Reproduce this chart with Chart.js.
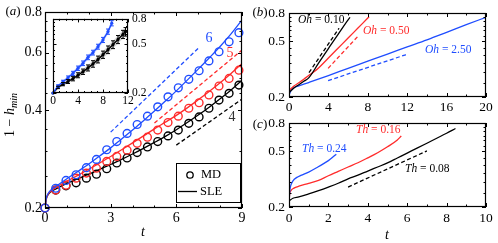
<!DOCTYPE html>
<html>
<head>
<meta charset="utf-8">
<script src="https://cdn.jsdelivr.net/npm/chart.js@4.4.1/dist/chart.umd.min.js"></script>
<style>
  body { margin: 0; background: #fff; }
  #wrap { position: relative; width: 498px; height: 243px; overflow: hidden; background: #fff; }
  canvas { position: absolute; }
</style>
</head>
<body>
<div id="wrap">
  <canvas id="cA" width="250" height="243" style="left:0px;top:0px"></canvas>
  <canvas id="cIn" width="112" height="102" style="left:43px;top:8px"></canvas>
  <canvas id="cB" width="248" height="118" style="left:250px;top:0px"></canvas>
  <canvas id="cC" width="248" height="135" style="left:250px;top:108px"></canvas>
</div>
<script>
const FONT = "'Liberation Serif', 'DejaVu Serif', serif";
const BLUE = '#1f4dff', RED = '#ff2b2b', BLACK = '#000000';

// ---- panel (a): MD samples (circles) and SLE curves (solid) ----
const mdT = [0, 0.49, 0.96, 1.42, 1.89, 2.35, 2.82, 3.28, 3.75, 4.21, 4.68, 5.15, 5.62, 6.09, 6.57, 7.04, 7.49, 7.95, 8.41, 8.86];
const mdBlue  = [0.2, 0.230, 0.243, 0.253, 0.266, 0.282, 0.302, 0.320, 0.339, 0.361, 0.383, 0.409, 0.439, 0.468, 0.497, 0.528, 0.566, 0.604, 0.648, 0.691];
const mdRed   = [0.2, 0.227, 0.235, 0.247, 0.256, 0.265, 0.278, 0.288, 0.301, 0.316, 0.330, 0.347, 0.366, 0.383, 0.405, 0.421, 0.445, 0.474, 0.500, 0.530];
const mdBlack = [0.2, 0.227, 0.234, 0.239, 0.247, 0.254, 0.264, 0.275, 0.285, 0.296, 0.308, 0.320, 0.333, 0.347, 0.364, 0.381, 0.405, 0.429, 0.450, 0.477];

const sleT = [0, 0.05, 0.15, 0.3, 0.5, 1, 1.5, 2, 2.5, 3, 3.5, 4, 4.5, 5, 5.5, 6, 6.5, 7, 7.5, 8, 8.5, 9];
const sleBlue  = [0.2, 0.213, 0.222, 0.228, 0.233, 0.246, 0.259, 0.273, 0.289, 0.306, 0.326, 0.347, 0.371, 0.397, 0.426, 0.458, 0.494, 0.534, 0.578, 0.627, 0.685, 0.756];
const sleRed   = [0.2, 0.212, 0.221, 0.226, 0.231, 0.242, 0.252, 0.263, 0.275, 0.288, 0.302, 0.317, 0.333, 0.350, 0.367, 0.385, 0.406, 0.430, 0.456, 0.485, 0.518, 0.556];
const sleBlack = [0.2, 0.212, 0.220, 0.225, 0.229, 0.238, 0.246, 0.254, 0.263, 0.272, 0.282, 0.293, 0.305, 0.318, 0.332, 0.348, 0.366, 0.386, 0.408, 0.433, 0.461, 0.494];

// reference slopes (dashed)
const refBlueT = [3, 7],  refBlue  = [0.342, 0.619];
const refRedT  = [5, 9],  refRed   = [0.365, 0.611];
const refBlackT = [6, 9], refBlack = [0.312, 0.432];

const aXTicks = [0, 3, 6, 9], aXMinor = [1, 2, 4, 5, 7, 8];
const aYTicks = [0.2, 0.4, 0.6, 0.8], aYMinor = [0.25, 0.3, 0.35, 0.45, 0.5, 0.55, 0.65, 0.7, 0.75];

// ---- inset ----
const inBlueT = [0, 0.8, 1.6, 2.4, 3.2, 4.0, 4.8, 5.6, 6.4, 7.2, 8.0, 8.8, 9.4];
const inBlue  = [0.2, 0.228, 0.247, 0.266, 0.289, 0.318, 0.349, 0.390, 0.426, 0.476, 0.540, 0.631, 0.738];
const inBlueErr = [0, 0.005, 0.007, 0.009, 0.011, 0.013, 0.015, 0.017, 0.019, 0.022, 0.026, 0.031, 0.036];
const inBlackT = [0, 0.8, 1.6, 2.4, 3.2, 4.0, 4.8, 5.6, 6.4, 7.2, 8.0, 8.8, 9.6, 10.4, 11.2, 11.6];
const inBlack  = [0.2, 0.222, 0.236, 0.248, 0.262, 0.279, 0.298, 0.320, 0.345, 0.375, 0.410, 0.450, 0.495, 0.545, 0.600, 0.630];
const inBlackErr = [0, 0.005, 0.007, 0.009, 0.011, 0.013, 0.015, 0.018, 0.021, 0.024, 0.028, 0.032, 0.036, 0.041, 0.046, 0.05];
const inXTicks = [0, 4, 8, 12], inXMinor = [1, 2, 3, 5, 6, 7, 9, 10, 11];

const logTicks = [0.2, 0.5, 0.8];
const logMinor = [0.25, 0.3, 0.35, 0.4, 0.45, 0.55, 0.6, 0.65, 0.7, 0.75];

// ---- panel (b): Oh variation ----
const bBlackT = [0, 0.5, 1, 1.5, 2, 3, 4, 5, 6, 6.2];
const bBlack  = [0.215, 0.232, 0.245, 0.259, 0.274, 0.350, 0.445, 0.565, 0.715, 0.745];
const bRedT = [0, 0.5, 1, 1.5, 2, 2.5, 3, 4, 5, 6, 7, 8, 8.13];
const bRed  = [0.222, 0.240, 0.253, 0.268, 0.285, 0.302, 0.323, 0.381, 0.449, 0.529, 0.624, 0.736, 0.752];
const bBlueT = [0, 0.2, 0.5, 1, 2, 4, 6, 8, 10, 12, 14, 16, 18, 20];
const bBlue  = [0.207, 0.222, 0.233, 0.240, 0.254, 0.285, 0.321, 0.361, 0.406, 0.457, 0.514, 0.582, 0.660, 0.745];
const bRefBlackT = [2.03, 5.08], bRefBlack = [0.299, 0.622];
const bRefRedT = [3.97, 7.02],   bRefRed = [0.321, 0.547];
const bRefBlueT = [3.97, 12.0],  bRefBlue = [0.262, 0.405];
const bXTicks = [0, 4, 8, 12, 16, 20], bXMinor = [2, 6, 10, 14, 18];

// ---- panel (c): Th variation ----
const cBlueT = [0, 0.02, 0.05, 0.1, 0.2, 0.4, 0.6, 1, 1.4, 2, 2.2, 2.4];
const cBlue  = [0.205, 0.24, 0.268, 0.288, 0.308, 0.326, 0.337, 0.356, 0.382, 0.43, 0.452, 0.478];
const cRedT = [0, 0.03, 0.1, 0.25, 0.5, 1, 1.5, 2, 2.5, 3, 3.5, 4, 4.5, 5, 5.5, 5.7];
const cRed  = [0.21, 0.245, 0.262, 0.273, 0.282, 0.295, 0.31, 0.335, 0.36, 0.387, 0.415, 0.45, 0.49, 0.54, 0.605, 0.645];
const cBlackT = [0, 0.2, 0.5, 1, 1.5, 2, 2.5, 3, 3.5, 4, 4.5, 5, 5.5, 6, 6.5, 7, 7.5, 8, 8.45];
const cBlack  = [0.221, 0.231, 0.236, 0.248, 0.262, 0.278, 0.296, 0.318, 0.338, 0.362, 0.387, 0.414, 0.449, 0.487, 0.528, 0.573, 0.622, 0.675, 0.73];
const cRefBlackT = [3, 7], cRefBlack = [0.278, 0.505];
const cXTicks = [0, 2, 4, 6, 8, 10], cXMinor = [1, 3, 5, 7, 9];

const pts = (xs, ys) => xs.map((x, i) => ({ x, y: ys[i] }));

const line = (xs, ys, color, dash, w) => ({
  data: pts(xs, ys), borderColor: color, borderWidth: w || 1.3, borderDash: dash || [],
  pointRadius: 0, fill: false, cubicInterpolationMode: 'monotone'
});
const circles = (xs, ys, color) => ({
  data: pts(xs, ys), showLine: false, borderColor: color, pointBorderColor: color,
  pointBackgroundColor: 'rgba(0,0,0,0)', backgroundColor: 'rgba(0,0,0,0)',
  pointRadius: 3.9, pointBorderWidth: 1.4, clip: false
});

function mathText(ctx, x, y, parts, size, align, color) {
  const fontOf = st => (st === 'n' ? '' : 'italic ') + (st === 's' ? Math.round(size * 0.72) : size) + 'px ' + FONT;
  let w = 0;
  parts.forEach(([t, st]) => { ctx.font = fontOf(st); w += ctx.measureText(t).width; });
  let cx = align === 'center' ? x - w / 2 : align === 'right' ? x - w : x;
  ctx.fillStyle = color || '#000';
  ctx.textBaseline = 'middle';
  ctx.textAlign = 'left';
  parts.forEach(([t, st]) => {
    ctx.font = fontOf(st);
    ctx.fillText(t, cx, y + (st === 's' ? size * 0.3 : 0));
    cx += ctx.measureText(t).width;
  });
}

// frame, inward ticks on all sides, and free text (page coordinates)
function decor(o) {
  return {
    id: 'decor',
    afterDatasetsDraw(chart) {
      const { ctx, chartArea: a } = chart;
      const sx = chart.scales.x, sy = chart.scales.y;
      ctx.save();
      ctx.strokeStyle = '#000';
      ctx.lineWidth = 1;
      ctx.beginPath();
      const xm = (vals, len) => vals.forEach(v => {
        const p = Math.round(sx.getPixelForValue(v)) + 0.5;
        ctx.moveTo(p, a.bottom); ctx.lineTo(p, a.bottom - len);
        ctx.moveTo(p, a.top); ctx.lineTo(p, a.top + len);
      });
      const ym = (vals, len) => vals.forEach(v => {
        const p = Math.round(sy.getPixelForValue(v)) + 0.5;
        ctx.moveTo(a.left, p); ctx.lineTo(a.left + len, p);
        ctx.moveTo(a.right, p); ctx.lineTo(a.right - len, p);
      });
      xm(o.xMaj, o.big); xm(o.xMin, o.small);
      ym(o.yMaj, o.big); ym(o.yMin, o.small);
      ctx.stroke();
      ctx.lineWidth = 1.2;
      ctx.strokeRect(Math.round(a.left) + 0.5, Math.round(a.top) + 0.5, Math.round(a.width) - 1, Math.round(a.height) - 1);
      if (o.extra) o.extra(chart, ctx);
      (o.texts || []).forEach(t => {
        ctx.save();
        ctx.translate(t.x - o.ox, t.y - o.oy);
        if (t.rot) ctx.rotate(t.rot);
        mathText(ctx, 0, 0, t.parts, t.size || 13, t.align || 'left', t.color);
        ctx.restore();
      });
      ctx.restore();
    }
  };
}

function axisX(min, max, ticks, size, h, pad) {
  return {
    type: 'linear', min, max,
    afterBuildTicks: s => { s.ticks = ticks.map(v => ({ value: v })); },
    afterFit: s => { s.height = h; },
    grid: { display: false, drawTicks: false }, border: { display: false },
    ticks: { color: '#000', font: { family: FONT, size }, padding: pad, maxRotation: 0, autoSkip: false, callback: v => String(v) }
  };
}
function axisY(ticks, size, w, pad, position) {
  return {
    type: 'logarithmic', min: 0.2, max: 0.8, position: position || 'left',
    afterBuildTicks: s => { s.ticks = ticks.map(v => ({ value: v })); },
    afterFit: s => { s.width = w; },
    grid: { display: false, drawTicks: false }, border: { display: false },
    ticks: { color: '#000', font: { family: FONT, size }, padding: pad, autoSkip: false, callback: v => Number(v).toFixed(1) }
  };
}
const base = (padding) => ({
  responsive: false, animation: false, devicePixelRatio: 1, events: [],
  layout: { padding },
  plugins: { legend: { display: false }, tooltip: { enabled: false } }
});

// ---------- panel (a) ----------
new Chart(document.getElementById('cA'), {
  type: 'line',
  data: {
    datasets: [
      circles(mdT, mdBlue, BLUE),
      line(sleT, sleBlue, BLUE),
      line(refBlueT, refBlue, BLUE, [4, 2.5]),
      circles(mdT, mdRed, RED),
      line(sleT, sleRed, RED),
      line(refRedT, refRed, RED, [4, 2.5]),
      circles(mdT, mdBlack, BLACK),
      line(sleT, sleBlack, BLACK),
      line(refBlackT, refBlack, BLACK, [4, 2.5])
    ]
  },
  options: Object.assign(base({ left: 0, right: 8, top: 12, bottom: 0 }), {
    scales: { x: axisX(0, 9, aXTicks, 14, 35, 2), y: axisY(aYTicks, 14, 45, 3) }
  }),
  plugins: [decor({
    ox: 0, oy: 0, big: 4, small: 2.5,
    xMaj: aXTicks, xMin: aXMinor, yMaj: aYTicks, yMin: aYMinor,
    texts: [
      { x: 13, y: 12, parts: [['(', 'n'], ['a', 'i'], [')', 'n']], size: 13, align: 'center' },
      { x: 10, y: 115, rot: -Math.PI / 2, parts: [['1 \u2212 ', 'n'], ['h', 'i'], ['min', 's']], size: 14, align: 'center' },
      { x: 143, y: 232, parts: [['t', 'i']], size: 14, align: 'center' },
      { x: 209, y: 38, parts: [['6', 'n']], size: 14, align: 'center', color: BLUE },
      { x: 230, y: 53, parts: [['5', 'n']], size: 14, align: 'center', color: RED },
      { x: 232, y: 117, parts: [['4', 'n']], size: 14, align: 'center', color: '#333' }
    ],
    extra: (chart, ctx) => {
      // legend box
      ctx.fillStyle = '#fff';
      ctx.fillRect(176.5, 163.5, 64, 39);
      ctx.strokeStyle = '#000'; ctx.lineWidth = 1;
      ctx.strokeRect(176.5, 163.5, 64, 39);
      ctx.lineWidth = 1.3;
      ctx.beginPath(); ctx.arc(190, 175, 3.2, 0, Math.PI * 2); ctx.stroke();
      ctx.beginPath(); ctx.moveTo(178, 191.5); ctx.lineTo(197, 191.5); ctx.stroke();
      mathText(ctx, 201, 175, [['MD', 'n']], 12.5, 'left');
      mathText(ctx, 200, 191.5, [['SLE', 'n']], 12.5, 'left');
    }
  })]
});

// ---------- inset ----------
const errBars = {
  id: 'errBars',
  afterDatasetsDraw(chart) {
    const { ctx } = chart;
    const sx = chart.scales.x, sy = chart.scales.y;
    ctx.save();
    ctx.lineWidth = 1;
    [[inBlueT, inBlue, inBlueErr, BLUE], [inBlackT, inBlack, inBlackErr, BLACK]].forEach(([ts, vs, es, col]) => {
      ctx.strokeStyle = col;
      ctx.beginPath();
      ts.forEach((t, i) => {
        if (!es[i]) return;
        const px = sx.getPixelForValue(t);
        const y1 = sy.getPixelForValue(vs[i] - es[i]), y2 = sy.getPixelForValue(vs[i] + es[i]);
        ctx.moveTo(px, y1); ctx.lineTo(px, y2);
        ctx.moveTo(px - 2, y1); ctx.lineTo(px + 2, y1);
        ctx.moveTo(px - 2, y2); ctx.lineTo(px + 2, y2);
      });
      ctx.stroke();
    });
    ctx.restore();
  }
};
const band = (ts, vs, es, sign) => pts(ts, vs.map((v, i) => v + sign * es[i]));
new Chart(document.getElementById('cIn'), {
  type: 'line',
  data: {
    datasets: [
      { data: pts(inBlueT, inBlue), borderColor: BLUE, borderWidth: 1.4, pointRadius: 1.6, pointBackgroundColor: BLUE, pointBorderWidth: 0, clip: false },
      { data: pts(inBlackT, inBlack), borderColor: BLACK, borderWidth: 1.4, pointRadius: 1.6, pointBackgroundColor: BLACK, pointBorderWidth: 0, clip: false },
      { data: band(inBlueT, inBlue, inBlueErr, 1), borderWidth: 0, pointRadius: 0, fill: '+1', backgroundColor: 'rgba(31,77,255,0.18)' },
      { data: band(inBlueT, inBlue, inBlueErr, -1), borderWidth: 0, pointRadius: 0, fill: false },
      { data: band(inBlackT, inBlack, inBlackErr, 1), borderWidth: 0, pointRadius: 0, fill: '+1', backgroundColor: 'rgba(0,0,0,0.16)' },
      { data: band(inBlackT, inBlack, inBlackErr, -1), borderWidth: 0, pointRadius: 0, fill: false }
    ]
  },
  options: Object.assign(base({ left: 10, right: 0, top: 10, bottom: 0 }), {
    scales: { x: axisX(0, 12, inXTicks, 11.5, 17, 1), y: axisY(logTicks, 11.5, 27, 4, 'right') }
  }),
  plugins: [errBars, decor({
    ox: 43, oy: 8, big: 3.5, small: 2,
    xMaj: inXTicks, xMin: inXMinor, yMaj: logTicks, yMin: logMinor
  })]
});

// ---------- panel (b) ----------
new Chart(document.getElementById('cB'), {
  type: 'line',
  data: {
    datasets: [
      line(bBlackT, bBlack, BLACK),
      line(bRefBlackT, bRefBlack, BLACK, [4, 2.5]),
      line(bRedT, bRed, RED),
      line(bRefRedT, bRefRed, RED, [4, 2.5]),
      line(bBlueT, bBlue, BLUE),
      line(bRefBlueT, bRefBlue, BLUE, [4, 2.5])
    ]
  },
  options: Object.assign(base({ left: 0, right: 12, top: 13, bottom: 0 }), {
    scales: { x: axisX(0, 20, bXTicks, 13.5, 21, 2), y: axisY(logTicks, 13.5, 39, 4) }
  }),
  plugins: [decor({
    ox: 250, oy: 0, big: 4, small: 2.5,
    xMaj: bXTicks, xMin: bXMinor, yMaj: logTicks, yMin: logMinor,
    texts: [
      { x: 260, y: 13, parts: [['(', 'n'], ['b', 'i'], [')', 'n']], size: 13, align: 'center' },
      { x: 298, y: 20, parts: [['Oh', 'i'], [' = 0.10', 'n']], size: 11.5 },
      { x: 363, y: 31, parts: [['Oh', 'i'], [' = 0.50', 'n']], size: 11.5, color: RED },
      { x: 425, y: 50, parts: [['Oh', 'i'], [' = 2.50', 'n']], size: 11.5, color: BLUE }
    ]
  })]
});

// ---------- panel (c) ----------
new Chart(document.getElementById('cC'), {
  type: 'line',
  data: {
    datasets: [
      line(cBlueT, cBlue, BLUE),
      line(cRedT, cRed, RED),
      line(cBlackT, cBlack, BLACK),
      line(cRefBlackT, cRefBlack, BLACK, [4, 2.5])
    ]
  },
  options: Object.assign(base({ left: 0, right: 12, top: 15, bottom: 0 }), {
    scales: { x: axisX(0, 10, cXTicks, 13.5, 36, 3), y: axisY(logTicks, 13.5, 39, 4) }
  }),
  plugins: [decor({
    ox: 250, oy: 108, big: 4, small: 2.5,
    xMaj: cXTicks, xMin: cXMinor, yMaj: logTicks, yMin: logMinor,
    texts: [
      { x: 260, y: 125, parts: [['(', 'n'], ['c', 'i'], [')', 'n']], size: 13, align: 'center' },
      { x: 302, y: 149, parts: [['Th', 'i'], [' = 0.24', 'n']], size: 11.5, color: BLUE },
      { x: 356, y: 130, parts: [['Th', 'i'], [' = 0.16', 'n']], size: 11.5, color: RED },
      { x: 405, y: 169, parts: [['Th', 'i'], [' = 0.08', 'n']], size: 11.5 },
      { x: 387, y: 235, parts: [['t', 'i']], size: 14, align: 'center' }
    ]
  })]
});
</script>
</body>
</html>
